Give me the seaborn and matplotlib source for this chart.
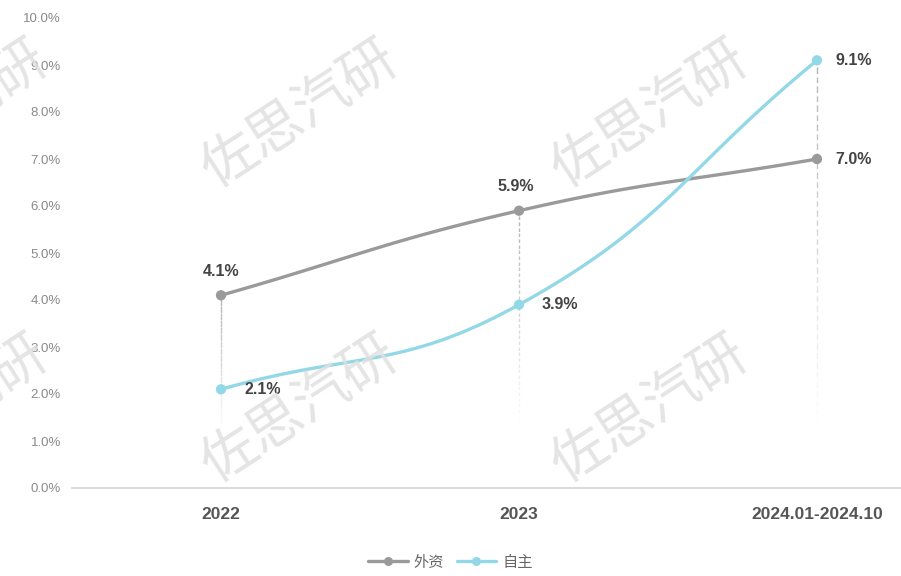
import numpy as np
import pandas as pd
import seaborn as sns
import matplotlib
matplotlib.use("Agg")
import matplotlib.pyplot as plt
from matplotlib.lines import Line2D
from matplotlib.collections import LineCollection

sns.set_theme(style="white")
plt.rcParams["font.family"] = ["Liberation Sans", "Noto Sans CJK SC", "DejaVu Sans"]

# ---- data ----
periods = ["2022", "2023", "2024.01-2024.10"]
foreign = [4.1, 5.9, 7.0]      # 外资
domestic = [2.1, 3.9, 9.1]     # 自主
series_names = ["外资", "自主"]
y_ticks = [0, 1, 2, 3, 4, 5, 6, 7, 8, 9, 10]

colors = {"外资": "#9a9a9a", "自主": "#93d8e7"}

df = pd.DataFrame({
    "period": periods * 2,
    "x": list(range(len(periods))) * 2,
    "value": foreign + domestic,
    "series": [series_names[0]] * 3 + [series_names[1]] * 3,
})

W, H, DPI = 901, 576, 100
fig = plt.figure(figsize=(W / DPI, H / DPI), dpi=DPI)
ax = fig.add_axes([72 / W, (H - 488) / H, 894 / W, 470 / H])
ax.set_xlim(-0.5, 2.5)
ax.set_ylim(0, 10)

# px-per-unit scales, used so the curve smoothing works in screen proportions
sx, sy = 298.0, 47.0


def smooth_curve(xs, ys, smooth=0.45, n=60):
    pts = np.column_stack([np.asarray(xs, float) * sx, np.asarray(ys, float) * sy])
    m = len(pts)
    cps = []
    for i in range(m):
        p = pts[i]
        prev = pts[i - 1] if i > 0 else p
        nxt = pts[i + 1] if i < m - 1 else p
        v = (nxt - prev) * smooth
        d0 = np.linalg.norm(p - prev)
        d1 = np.linalg.norm(nxt - p)
        s = d0 + d1
        if s > 0:
            d0, d1 = d0 / s, d1 / s
        cps.append((p - v * d0, p + v * d1))
    out = []
    t = np.linspace(0, 1, n)[:, None]
    for i in range(m - 1):
        p0, p3 = pts[i], pts[i + 1]
        p1, p2 = cps[i][1], cps[i + 1][0]
        seg = ((1 - t) ** 3) * p0 + 3 * ((1 - t) ** 2) * t * p1 + 3 * (1 - t) * t ** 2 * p2 + t ** 3 * p3
        out.append(seg)
    c = np.vstack(out)
    return c[:, 0] / sx, c[:, 1] / sy


# fading dashed drop lines from the upper marker of each period
for i in range(len(periods)):
    top = max(foreign[i], domestic[i])
    ys = np.linspace(top, 1.2, 40)
    segs = [[(i, ys[k]), (i, ys[k + 1])] for k in range(len(ys) - 1)]
    alphas = np.linspace(0.75, 0.0, len(segs))
    cols = [(0.6, 0.6, 0.6, a) for a in alphas]
    lc = LineCollection(segs, colors=cols, linewidths=1.0, linestyles=(0, (2.5, 2.5)), zorder=1)
    ax.add_collection(lc)

# smoothed lines
for name, vals in zip(series_names, [foreign, domestic]):
    cx, cy = smooth_curve(range(len(periods)), vals)
    ax.plot(cx, cy, color=colors[name], lw=2.4, zorder=2, solid_capstyle="round")

# markers
sns.scatterplot(data=df, x="x", y="value", hue="series", palette=colors, s=55,
                edgecolor="none", legend=False, ax=ax, zorder=3)

# value labels
lab_kw = dict(fontsize=11.5, fontweight="bold", color="#444444", zorder=4)
ax.annotate(f"{foreign[0]:.1f}%", (0, foreign[0]), xytext=(0, 12), textcoords="offset points",
            ha="center", va="bottom", **lab_kw)
ax.annotate(f"{foreign[1]:.1f}%", (1, foreign[1]), xytext=(-2, 12), textcoords="offset points",
            ha="center", va="bottom", **lab_kw)
ax.annotate(f"{foreign[2]:.1f}%", (2, foreign[2]), xytext=(13, 0), textcoords="offset points",
            ha="left", va="center", **lab_kw)
ax.annotate(f"{domestic[0]:.1f}%", (0, domestic[0]), xytext=(17, 0), textcoords="offset points",
            ha="left", va="center", **lab_kw)
ax.annotate(f"{domestic[1]:.1f}%", (1, domestic[1]), xytext=(16, 0), textcoords="offset points",
            ha="left", va="center", **lab_kw)
ax.annotate(f"{domestic[2]:.1f}%", (2, domestic[2]), xytext=(13, 0), textcoords="offset points",
            ha="left", va="center", **lab_kw)

# axes styling
ax.set_xticks(range(len(periods)))
ax.set_xticklabels(periods, fontsize=12.5, fontweight="bold", color="#555555")
ax.set_yticks(y_ticks)
ax.set_yticklabels([f"{v:.1f}%" for v in y_ticks], fontsize=9.5, color="#8a8a8a")
ax.tick_params(axis="x", length=0, pad=14)
ax.tick_params(axis="y", length=0, pad=8)
for side in ["top", "right", "left"]:
    ax.spines[side].set_visible(False)
ax.spines["bottom"].set_color("#d4d4d4")
ax.spines["bottom"].set_linewidth(1.2)
ax.set_xlabel("")
ax.set_ylabel("")
ax.grid(False)

# legend
handles = [Line2D([0], [0], color=colors[n], lw=2.4, marker="o", markersize=6.5,
                  markeredgecolor="none") for n in series_names]
fig.legend(handles, series_names, loc="center", bbox_to_anchor=(0.5, 1 - 562 / H), ncol=2,
           frameon=False, fontsize=11, handlelength=2.6, columnspacing=0.8, handletextpad=0.4,
           labelcolor="#666666", prop={"family": ["Noto Sans CJK SC", "DejaVu Sans"], "size": 11})

# background watermark, tiled across the canvas
for cx_px in [-50, 300, 650, 1000]:
    for cy_px in [115, 410]:
        fig.text(cx_px / W, 1 - cy_px / H, "佐思汽研", rotation=33, ha="center", va="center",
                 fontsize=40, color="#e0e0e0", family=["Noto Sans CJK SC"], alpha=0.85, zorder=0,
                 rotation_mode="anchor")

fig.savefig("out.png", dpi=DPI, facecolor="white")
